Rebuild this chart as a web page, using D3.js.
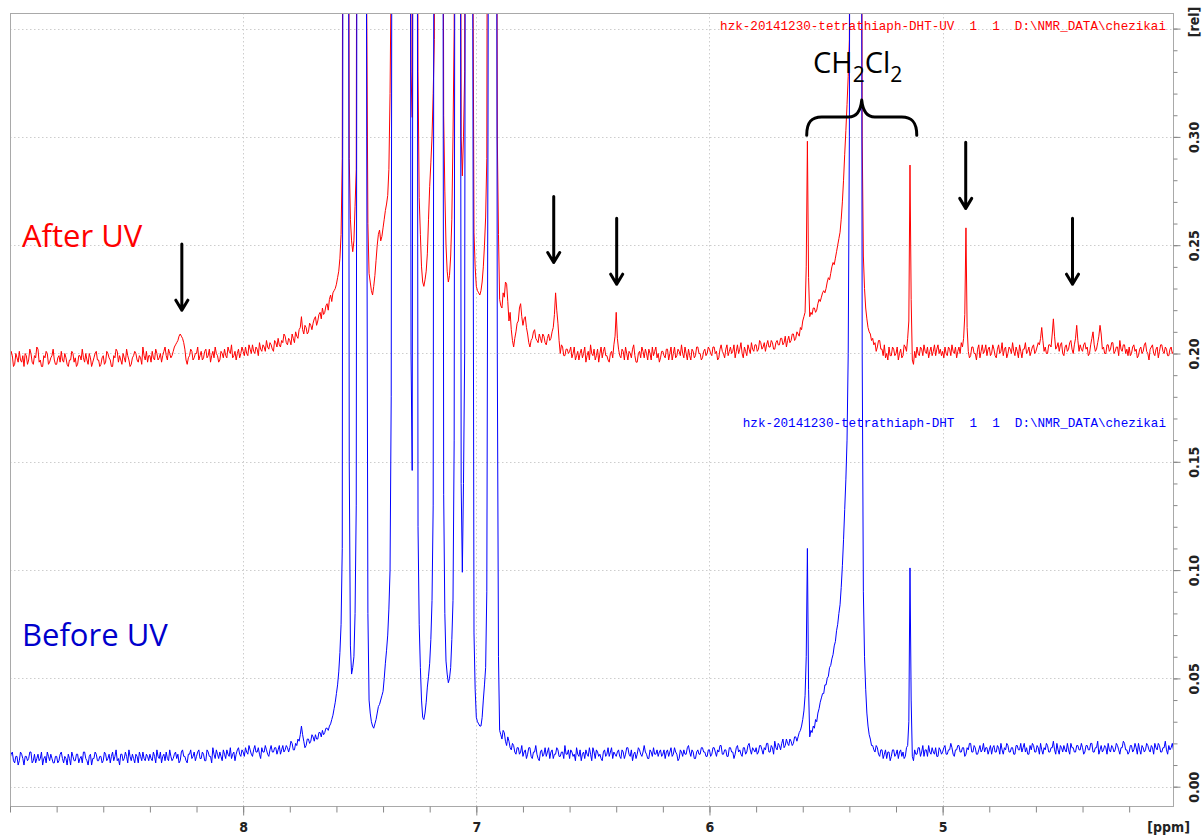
<!DOCTYPE html>
<html>
<head>
<meta charset="utf-8">
<script src="https://cdn.jsdelivr.net/npm/d3@7"></script>
<style>
  html, body { margin: 0; padding: 0; background: #fff; }
  svg { display: block; }
  .tick text { font-family: "Liberation Sans Narrow", "Arial Narrow", "DejaVu Sans Condensed", sans-serif; font-weight: bold; font-size: 14px; fill: #222; }
</style>
</head>
<body>
<svg id="chart" width="1203" height="836"></svg>
<script>
// Chemical shift sampling: first point at 9.000 ppm, one point every 0.005 ppm (1000 points, 40 per row = 0.2 ppm)
const ppmStart = 9.000;
const ppmStep = 0.005;

// 1H spectrum after irradiation, intensity in 1/1000 rel (600 = line running off the top of the window)
const afterUV = [
  196,201,199,194,195,200,198,196,201,197,196,199,194,200,199,195,197,202,200,196,195,199,198,203,202,196,197,194,194,199,198,201,200,195,196,198,199,202,197,195,
  195,198,199,196,201,197,196,200,198,195,194,197,197,201,200,196,198,194,195,199,199,197,202,198,196,200,197,195,200,198,194,196,198,200,201,197,197,194,195,198,
  199,195,196,201,200,198,197,194,194,199,198,202,201,196,199,197,195,200,198,196,202,199,197,194,195,198,199,201,200,197,196,199,198,195,203,199,197,201,196,199,
  199,196,201,198,197,202,200,197,198,200,196,199,201,203,199,197,202,200,198,199,201,203,204,205,206,208,209,208,207,205,202,197,195,198,199,202,201,197,198,200,
  200,203,197,199,201,197,198,201,202,198,199,202,196,199,201,198,203,200,199,196,197,201,200,198,202,199,198,203,201,200,204,198,199,201,197,200,202,198,200,203,
  201,199,203,200,199,204,202,200,204,201,200,203,202,199,205,202,201,204,203,201,206,203,202,205,204,202,201,206,205,203,207,204,203,206,205,209,208,205,204,207,
  206,204,209,207,205,210,208,207,211,212,217,211,209,213,212,209,210,214,213,211,214,216,217,213,215,218,219,216,221,218,219,222,223,220,225,227,224,228,229,230,
  232,235,238,244,255,290,600,600,600,600,600,290,262,252,247,252,268,285,600,600,600,600,600,600,600,600,360,260,237,233,229,227,231,236,243,250,255,257,252,254,
  258,262,266,269,273,285,320,380,600,600,600,600,600,600,600,600,600,600,600,600,600,600,600,600,330,309,600,600,600,600,330,272,255,240,233,231,234,238,246,262,
  277,288,300,320,345,600,600,600,600,600,600,600,310,275,250,238,233,236,245,262,300,350,600,600,600,600,600,300,282,300,330,600,600,600,600,600,600,400,256,240,
  231,229,228,227,229,233,240,250,263,290,600,600,600,600,600,600,600,600,300,255,225,222,221,228,226,233,232,224,215,219,211,206,203,207,210,214,215,221,223,217,
  213,216,217,212,209,205,203,206,207,210,211,207,206,205,209,207,205,209,208,205,204,207,209,206,207,210,212,218,228,220,214,206,200,204,203,199,199,202,202,200,
  201,203,198,200,203,197,199,201,197,200,202,198,200,203,196,199,201,197,204,200,199,202,197,199,202,196,200,203,198,201,203,199,199,197,196,200,201,198,204,208,
  219,207,202,199,198,202,201,197,203,200,197,201,200,198,202,204,199,196,196,200,201,198,203,201,198,202,200,197,202,200,197,203,199,201,203,198,200,196,198,201,
  201,199,198,202,202,197,200,203,197,200,203,198,199,202,201,199,204,200,198,203,200,197,202,199,197,202,201,198,199,203,203,200,200,197,198,201,202,199,200,203,
  202,200,199,203,203,200,201,197,198,202,204,201,200,198,202,204,199,201,203,200,201,204,198,201,204,200,202,205,200,198,203,201,199,204,202,200,205,202,201,204,
  204,201,202,206,205,202,203,205,201,204,206,203,203,206,205,202,202,205,206,204,204,207,207,204,205,208,203,206,208,205,206,209,209,206,207,210,209,208,212,211,
  215,217,219,240,298,235,217,219,218,221,221,219,220,223,225,224,226,228,229,228,230,233,235,234,237,240,242,241,244,247,250,253,256,262,270,280,292,303,315,328,
  345,600,600,600,600,600,600,600,600,600,600,300,245,230,221,216,212,210,209,206,207,204,205,201,203,206,206,202,202,199,204,198,200,197,203,199,199,203,202,199,
  200,203,197,200,202,198,199,204,203,201,207,215,287,225,197,195,201,198,203,200,199,203,202,199,204,201,200,203,198,201,203,199,201,204,199,202,204,200,202,199,
  201,198,203,200,199,203,202,199,204,201,200,203,198,201,203,200,205,203,207,218,258,212,201,198,199,203,203,200,200,197,202,204,198,201,204,200,201,204,199,202,
  203,199,200,204,202,199,198,202,204,200,201,205,199,202,203,198,200,203,202,200,205,201,199,203,201,198,204,201,198,202,202,205,200,201,203,199,201,203,204,200,
  201,203,205,204,207,212,206,201,203,200,200,204,204,203,209,216,208,202,203,205,201,204,205,200,199,203,204,201,202,205,206,202,200,204,207,213,206,201,204,202,
  201,204,205,202,203,199,200,204,207,210,204,201,202,205,208,213,209,202,203,200,200,204,204,201,202,205,205,200,201,203,203,199,206,202,201,204,204,200,202,199,
  203,199,200,203,204,201,202,198,199,202,203,200,201,204,205,201,200,197,202,203,204,200,199,202,203,198,201,204,204,201,200,203,202,199,199,202,203,200,201,198
];

// 1H spectrum before irradiation, intensity in 1/1000 rel
const beforeUV = [
  13,15,16,12,11,14,14,10,12,16,15,13,10,14,14,12,13,16,16,11,12,15,11,13,15,12,13,16,10,13,14,11,16,14,12,15,13,11,11,14,
  14,11,12,15,16,13,11,14,13,10,15,13,10,16,14,12,12,15,15,11,13,14,11,16,16,13,12,10,14,15,10,13,13,16,15,12,12,14,14,11,
  12,16,15,12,13,15,11,14,16,12,14,17,12,13,10,15,15,12,13,16,14,11,17,14,12,15,13,11,15,14,11,16,14,12,16,13,12,15,14,12,
  15,13,12,16,14,11,17,14,13,16,11,14,15,12,16,13,12,17,14,12,13,15,16,13,15,11,12,16,17,14,14,12,11,15,15,17,13,14,16,12,
  14,16,17,13,13,16,15,12,12,17,16,14,14,11,18,15,13,17,15,13,16,14,12,17,15,13,17,15,14,18,13,15,16,12,15,17,18,15,14,17,
  16,14,18,16,15,19,17,15,14,17,19,16,16,18,15,13,18,16,16,19,17,15,14,17,19,16,16,18,18,15,17,19,15,17,19,16,17,19,18,16,
  18,21,20,17,17,20,19,22,21,24,28,24,21,18,19,22,22,20,21,24,23,21,24,22,22,25,25,23,26,24,25,27,27,26,28,29,31,33,36,39,
  43,47,53,62,75,110,600,600,600,600,600,150,65,52,55,60,80,130,600,600,600,600,600,600,600,600,300,80,40,34,30,28,27,29,31,34,37,38,40,42,
  44,50,57,63,70,82,100,180,600,600,600,600,600,600,600,600,600,600,600,600,600,600,600,600,200,146,600,600,600,600,120,75,55,40,32,31,34,39,46,51,
  57,68,86,130,600,600,600,600,600,600,600,600,135,80,58,52,48,50,55,68,86,160,600,600,600,600,600,140,99,140,200,600,600,600,600,600,600,350,71,45,
  32,30,29,28,28,32,40,47,55,90,300,600,600,600,600,600,600,600,200,60,26,24,22,26,25,21,19,23,21,18,17,20,19,16,15,18,18,15,16,19,
  14,16,17,13,15,18,18,14,13,16,16,19,15,13,12,16,17,14,15,18,14,16,18,13,16,17,13,15,15,18,17,14,14,16,16,13,19,15,15,17,
  13,17,16,14,15,12,18,15,14,17,12,15,16,13,17,15,14,18,15,12,18,16,13,17,16,14,15,13,12,16,17,14,15,18,14,16,18,13,16,15,
  14,16,17,14,13,17,16,13,15,18,18,15,14,17,12,15,16,13,15,18,17,15,14,16,19,16,15,13,13,17,16,14,18,15,15,17,14,16,17,14,
  15,17,13,16,17,14,16,18,14,15,18,16,15,12,13,17,16,14,17,15,15,18,19,16,14,17,16,13,13,16,17,15,15,18,18,16,16,14,14,17,
  17,14,15,18,18,16,14,17,16,19,19,15,15,17,17,14,14,18,18,16,16,13,15,18,19,16,17,15,14,18,18,15,16,19,20,17,15,18,17,16,
  18,15,16,19,19,17,15,18,17,20,20,16,16,19,18,15,21,18,17,20,19,17,20,22,18,19,22,20,19,22,21,19,20,23,23,21,23,25,26,28,
  31,35,42,60,110,45,23,26,25,28,27,31,30,34,36,39,41,43,43,47,47,50,51,55,56,59,61,65,67,72,75,80,84,92,102,114,128,142,160,200,
  300,600,600,600,600,600,600,600,600,600,600,200,90,60,45,34,28,24,22,19,19,17,16,19,18,15,14,17,17,13,15,17,13,16,16,12,14,17,17,14,
  15,17,13,16,17,14,16,13,14,18,19,30,101,40,14,12,17,15,15,18,18,14,16,19,14,17,17,14,19,16,15,18,16,15,18,14,14,18,17,15,
  16,18,19,15,15,17,17,20,18,15,14,17,17,19,19,16,16,18,18,14,15,18,17,20,20,16,16,19,18,15,15,17,19,16,17,20,16,18,18,15,
  17,19,15,18,19,16,16,19,18,15,20,17,15,18,17,20,19,16,16,18,18,15,15,19,19,17,17,20,16,18,20,16,18,15,15,19,17,20,19,16,
  16,19,18,15,20,17,15,18,17,20,19,16,16,18,18,21,17,15,20,17,15,19,18,16,19,17,16,20,17,15,20,18,18,16,16,19,19,17,17,20,
  18,15,16,19,19,17,17,20,20,16,16,18,18,21,15,17,19,16,17,19,18,15,20,17,16,19,18,16,17,20,19,17,15,18,18,21,20,17,17,15,
  16,19,19,16,17,20,18,15,20,17,15,19,18,16,17,20,19,17,16,19,18,15,20,18,17,20,19,16,16,18,18,21,17,15,19,17,18,20,17,16
];

// Axis ticks
const xMajorTicks = [8, 7, 6, 5];
const yMajorTicks = [0, 0.05, 0.10, 0.15, 0.20, 0.25, 0.30, 0.35];
const yTickLabels = ["0.00", "0.05", "0.10", "0.15", "0.20", "0.25", "0.30", ""];

// New signals after irradiation: arrow position (ppm) and arrow tip height (rel)
const arrowPpm = [8.263, 6.668, 6.398, 4.901, 4.443];
const arrowTip = [0.220, 0.242, 0.232, 0.267, 0.232];
const arrowLength = 0.0305;

// Solvent annotation: brace spanning the 13C satellites, peaked over the solvent line
const braceLeftPpm = 5.583, braceRightPpm = 5.111, braceMidPpm = 5.347;

const svg = d3.select("#chart");
const plot = { left: 10, right: 1173, top: 13, bottom: 806 };

const x = d3.scaleLinear().domain([9.0, 4.012]).range([plot.left, plot.right]);
const y = d3.scaleLinear().domain([0, 0.35]).range([786.7, 28.6]);

const toPoints = arr => arr.map((v, i) => ({ ppm: ppmStart - i * ppmStep, v: v / 1000 }));

// dotted grid
const grid = svg.append("g")
  .attr("stroke", "#cdcdcd")
  .attr("stroke-width", 1)
  .attr("stroke-dasharray", "1.5,2.5");
grid.selectAll("line.gx").data(xMajorTicks).join("line")
  .attr("class", "gx")
  .attr("x1", d => Math.round(x(d)) + 0.5).attr("x2", d => Math.round(x(d)) + 0.5)
  .attr("y1", plot.top).attr("y2", plot.bottom);
grid.selectAll("line.gy").data(yMajorTicks).join("line")
  .attr("class", "gy")
  .attr("x1", plot.left).attr("x2", plot.right)
  .attr("y1", d => Math.round(y(d)) + 0.5).attr("y2", d => Math.round(y(d)) + 0.5);

// spectra, clipped to the frame
svg.append("clipPath").attr("id", "plotClip")
  .append("rect")
  .attr("x", plot.left).attr("y", plot.top)
  .attr("width", plot.right - plot.left).attr("height", plot.bottom - plot.top);

const line = d3.line().x(d => x(d.ppm)).y(d => y(d.v));
const traces = svg.append("g").attr("clip-path", "url(#plotClip)");
traces.append("path")
  .datum(toPoints(afterUV))
  .attr("d", line)
  .attr("fill", "none")
  .attr("stroke", "#ff0000")
  .attr("stroke-width", 1);
traces.append("path")
  .datum(toPoints(beforeUV))
  .attr("d", line)
  .attr("fill", "none")
  .attr("stroke", "#0000ff")
  .attr("stroke-width", 1);

// frame
const frame = svg.append("g").attr("stroke", "#a9a9a9").attr("stroke-width", 1).attr("fill", "none");
frame.append("line").attr("x1", plot.left + 0.5).attr("x2", plot.left + 0.5).attr("y1", plot.top).attr("y2", plot.bottom);
frame.append("line").attr("x1", plot.left).attr("x2", plot.right).attr("y1", plot.top + 0.5).attr("y2", plot.top + 0.5);
frame.append("line").attr("x1", plot.right + 0.5).attr("x2", plot.right + 0.5).attr("y1", plot.top).attr("y2", plot.bottom + 0.5);
frame.append("line").attr("x1", plot.left).attr("x2", plot.right + 1).attr("y1", plot.bottom + 0.5).attr("y2", plot.bottom + 0.5);

// bottom ppm axis
const xAxisG = svg.append("g").attr("transform", `translate(0,${plot.bottom + 0.5})`);
xAxisG.append("g").call(
  d3.axisBottom(x).tickValues(d3.range(9.0, 4.1, -0.2)).tickSize(6).tickFormat("")
);
xAxisG.append("g").call(
  d3.axisBottom(x).tickValues(xMajorTicks).tickSize(9).tickPadding(7).tickFormat(d3.format("d"))
);
xAxisG.selectAll(".domain").remove();
xAxisG.selectAll(".tick line").attr("stroke", "#888");
xAxisG.append("text")
  .attr("x", 1190).attr("y", 25)
  .attr("text-anchor", "end")
  .attr("font-family", '"Liberation Sans Narrow", "Arial Narrow", "DejaVu Sans Condensed", sans-serif')
  .attr("font-weight", "bold").attr("font-size", 14).attr("fill", "#222")
  .text("[ppm]");

// right intensity axis
const yAxisG = svg.append("g").attr("transform", `translate(${plot.right + 0.5},0)`);
yAxisG.append("g").call(
  d3.axisRight(y).tickValues(d3.range(0, 0.355, 0.01)).tickSize(4).tickFormat("")
);
yAxisG.append("g").call(
  d3.axisRight(y).tickValues(yMajorTicks).tickSize(7).tickFormat((d, i) => yTickLabels[i])
);
yAxisG.selectAll(".domain").remove();
yAxisG.selectAll(".tick line").attr("stroke", "#888");
yAxisG.selectAll(".tick text")
  .attr("x", 0).attr("dy", 0)
  .attr("text-anchor", "middle")
  .attr("transform", "translate(25,0) rotate(-90)");
yAxisG.append("text")
  .attr("transform", "translate(25,22) rotate(-90)")
  .attr("text-anchor", "middle")
  .attr("font-family", '"Liberation Sans Narrow", "Arial Narrow", "DejaVu Sans Condensed", sans-serif')
  .attr("font-weight", "bold").attr("font-size", 14).attr("fill", "#222")
  .text("[rel]");

// data-set captions
const mono = '"Liberation Mono", "Courier New", monospace';
svg.append("text")
  .attr("x", 1166).attr("y", 30)
  .attr("text-anchor", "end")
  .attr("font-family", mono).attr("font-size", 12.6)
  .attr("fill", "#ff0000")
  .attr("xml:space", "preserve").style("white-space", "pre")
  .text("hzk-20141230-tetrathiaph-DHT-UV  1  1  D:\\NMR_DATA\\chezikai");
svg.append("text")
  .attr("x", 1166).attr("y", 427)
  .attr("text-anchor", "end")
  .attr("font-family", mono).attr("font-size", 12.6)
  .attr("fill", "#0000ff")
  .attr("xml:space", "preserve").style("white-space", "pre")
  .text("hzk-20141230-tetrathiaph-DHT  1  1  D:\\NMR_DATA\\chezikai");

// sample labels
svg.append("text")
  .attr("x", 22).attr("y", 247)
  .attr("font-family", '"Open Sans", sans-serif').attr("font-size", 31)
  .attr("fill", "#ff0000")
  .text("After UV");
svg.append("text")
  .attr("x", 22).attr("y", 646)
  .attr("font-family", '"Open Sans", sans-serif').attr("font-size", 31)
  .attr("fill", "#0000cc")
  .text("Before UV");

// CH2Cl2 label with brace
const solvent = svg.append("text")
  .attr("x", 813).attr("y", 73)
  .attr("font-family", '"Open Sans", sans-serif').attr("font-size", 29)
  .attr("fill", "#000");
solvent.append("tspan").text("CH");
solvent.append("tspan").attr("font-size", 21).attr("dy", 9).text("2");
solvent.append("tspan").attr("dy", -9).text("Cl");
solvent.append("tspan").attr("font-size", 21).attr("dy", 9).text("2");

const xl = x(braceLeftPpm), xr = x(braceRightPpm), xc = x(braceMidPpm);
const ye = y(0.3008), yb = y(0.3092), yc = y(0.3170);
svg.append("path")
  .attr("d", `M${xl},${ye} C${xl},${yb + 5} ${xl + 5},${yb} ${xl + 15},${yb} L${xc - 13},${yb} C${xc - 5},${yb} ${xc - 1},${yb - 7} ${xc},${yc} C${xc + 1},${yb - 7} ${xc + 5},${yb} ${xc + 13},${yb} L${xr - 15},${yb} C${xr - 5},${yb} ${xr},${yb + 5} ${xr},${ye}`)
  .attr("fill", "none").attr("stroke", "#000").attr("stroke-width", 3)
  .attr("stroke-linecap", "round").attr("stroke-linejoin", "round");

// arrows marking new signals
svg.append("g").selectAll("path").data(arrowPpm).join("path")
  .attr("d", (d, i) => {
    const ax = x(d), tip = y(arrowTip[i]), top = y(arrowTip[i] + arrowLength);
    return `M${ax},${top} L${ax},${tip} M${ax - 6},${tip - 10} L${ax},${tip} L${ax + 6},${tip - 10}`;
  })
  .attr("fill", "none").attr("stroke", "#000").attr("stroke-width", 3)
  .attr("stroke-linecap", "round").attr("stroke-linejoin", "round");
</script>
</body>
</html>
